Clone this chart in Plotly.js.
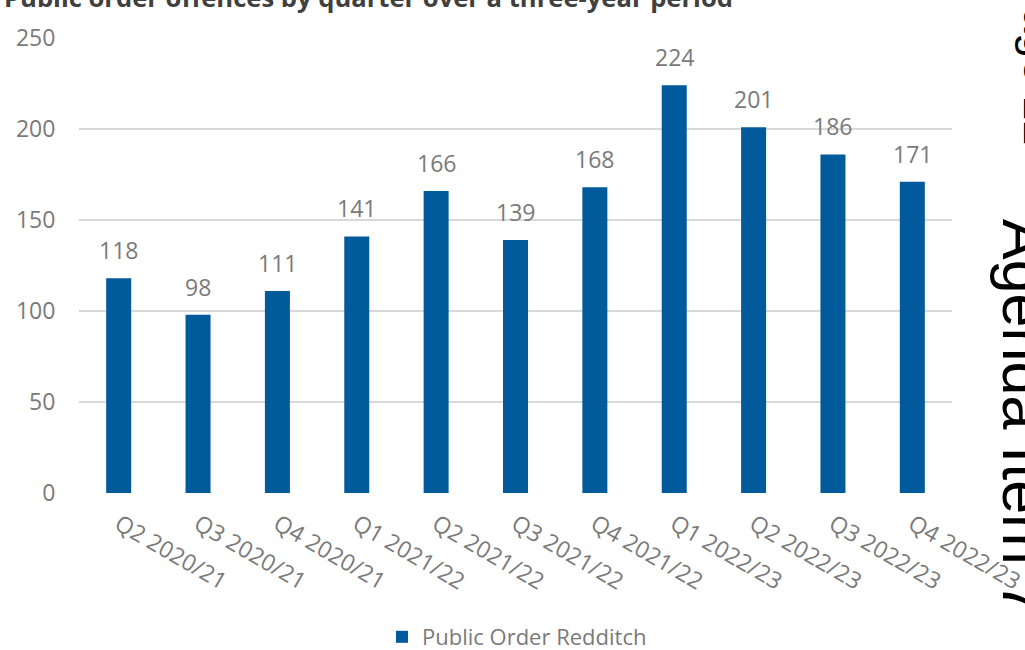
<!DOCTYPE html>
<html>
<head>
<meta charset="utf-8">
<script src="https://cdn.plot.ly/plotly-3.0.1.min.js"></script>
<style>html,body{margin:0;padding:0;background:#fff;}#chart{width:1025px;height:650px;}</style>
</head>
<body>
<div id="chart"></div>
<script>
const categories = ['Q2 2020/21','Q3 2020/21','Q4 2020/21','Q1 2021/22','Q2 2021/22','Q3 2021/22','Q4 2021/22','Q1 2022/23','Q2 2022/23','Q3 2022/23','Q4 2022/23'];
const offences = [118, 98, 111, 141, 166, 139, 168, 224, 201, 186, 171];
const seriesName = 'Public Order Redditch';
const chartTitle = 'Public order offences by quarter over a three-year period';
const sideText = 'Agenda Item 7';
const pageText = 'Page 12';

const W = 1025, H = 650;
const M = {l: 79, r: 73, t: 38, b: 157};
const PW = W - M.l - M.r, PH = H - M.t - M.b;
const px2x = p => (p - M.l) / PW;
const px2y = p => 1 - (p - M.t) / PH;

const grey = '#7a7a7a';
const font = 'Open Sans, Noto Sans, sans-serif';

const trace = {
  type: 'bar',
  x: categories,
  y: offences,
  name: seriesName,
  marker: {color: '#005A9C', line: {width: 0}},
  hoverinfo: 'skip'
};

const labelAnns = categories.map((c, i) => ({
  x: c, y: offences[i], xref: 'x', yref: 'y',
  text: String(offences[i]), showarrow: false,
  yanchor: 'bottom', yshift: 10,
  font: {family: font, size: 23, color: grey}
}));

const extraAnns = [
  {xref: 'paper', yref: 'paper', x: px2x(2), y: px2y(17), xanchor: 'left', yanchor: 'bottom',
   text: '<b>' + chartTitle + '</b>', showarrow: false,
   font: {family: font, size: 25.6, color: '#404040'}},
  {xref: 'paper', yref: 'paper', x: px2x(1024), y: px2y(418), xanchor: 'center', yanchor: 'middle',
   text: sideText, textangle: 90, showarrow: false,
   font: {family: 'Liberation Sans, Arial, sans-serif', size: 61, color: '#000'}},
  {xref: 'paper', yref: 'paper', x: px2x(1040), y: px2y(62), xanchor: 'center', yanchor: 'middle',
   text: pageText, textangle: 90, showarrow: false,
   font: {family: 'Liberation Sans, Arial, sans-serif', size: 45, color: '#000'}}
];

const layout = {
  width: W, height: H,
  margin: M,
  paper_bgcolor: '#fff', plot_bgcolor: '#fff',
  bargap: 0.685,
  showlegend: true,
  legend: {orientation: 'h', xref: 'container', yref: 'container',
           x: 382 / W, xanchor: 'left', y: 1 - 637 / H, yanchor: 'middle',
           font: {family: font, size: 22, color: grey}},
  xaxis: {
    type: 'category', tickangle: 30, showgrid: false, showline: false, zeroline: false,
    automargin: false,
    ticks: 'outside', ticklen: 8, tickcolor: 'rgba(0,0,0,0)',
    tickfont: {family: font, size: 23, color: grey}
  },
  yaxis: {
    range: [0, 250], dtick: 50, showgrid: true, gridcolor: '#d9d9d9', gridwidth: 1.5,
    automargin: false,
    zeroline: false, showline: false, ticks: 'outside', ticklen: 18, tickcolor: 'rgba(0,0,0,0)',
    tickfont: {family: font, size: 23, color: grey}
  },
  annotations: labelAnns.concat(extraAnns)
};

Plotly.newPlot('chart', [trace], layout, {displayModeBar: false, staticPlot: true});
</script>
</body>
</html>
